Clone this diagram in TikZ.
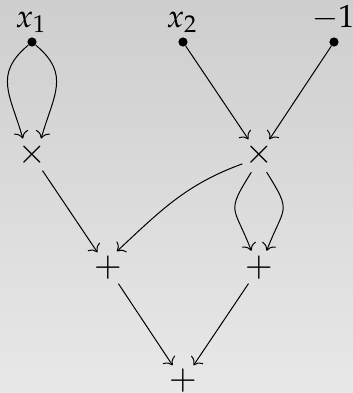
\documentclass[tikz,border=0pt]{standalone}
\usepackage{mathpazo}
\usetikzlibrary{arrows.meta}
\definecolor{bgtop}{RGB}{206,206,206}
\definecolor{bgbot}{RGB}{232,232,232}
\begin{document}
\begin{tikzpicture}[x=0.5pt,y=0.5pt,
  >={To[scale=1.3]},
  edge/.style={->,line width=0.5pt},
  dotnode/.style={circle,fill,inner sep=0pt,minimum size=4.6pt},
  opnode/.style={circle,inner sep=0pt,minimum size=18pt,font=\fontsize{17}{20}\selectfont},
  lab/.style={anchor=base,inner sep=0pt,font=\fontsize{16}{19}\selectfont}]
\shade[top color=bgtop,bottom color=bgbot] (0,0) rectangle (353,393);
\useasboundingbox (0,0) rectangle (353,393);
\node[dotnode] (x1) at (32,351) {};
\node[dotnode] (x2) at (183,351) {};
\node[dotnode] (c) at (334,351) {};
\node[lab] (lx1) at (31,366) {$x_1$};
\node[lab] (lx2) at (182,366) {$x_2$};
\node[lab] (lc) at (333,366) {$-1$};
\node[opnode] (mL) at (32,238) {$\times$};
\node[opnode] (mR) at (259,238) {$\times$};
\node[opnode] (pL) at (108,125) {$+$};
\node[opnode] (pR) at (259,125) {$+$};
\node[opnode] (pB) at (183,12) {$+$};
\draw[edge] (x1) to[out=220,in=106,looseness=1.25] (mL.119);
\draw[edge] (x1) to[out=320,in=74,looseness=1.25] (mL.61);
\draw[edge] (x2) -- (mR);
\draw[edge] (c) -- (mR);
\draw[edge] (mL) -- (pL);
\draw[edge] (mR.208) to[out=200,in=43] (pL.62);
\draw[edge] (mR.246) to[out=238,in=111,looseness=1.6] (pR.114);
\draw[edge] (mR.294) to[out=302,in=69,looseness=1.6] (pR.66);
\draw[edge] (pL) -- (pB);
\draw[edge] (pR) -- (pB);
\end{tikzpicture}
\end{document}
